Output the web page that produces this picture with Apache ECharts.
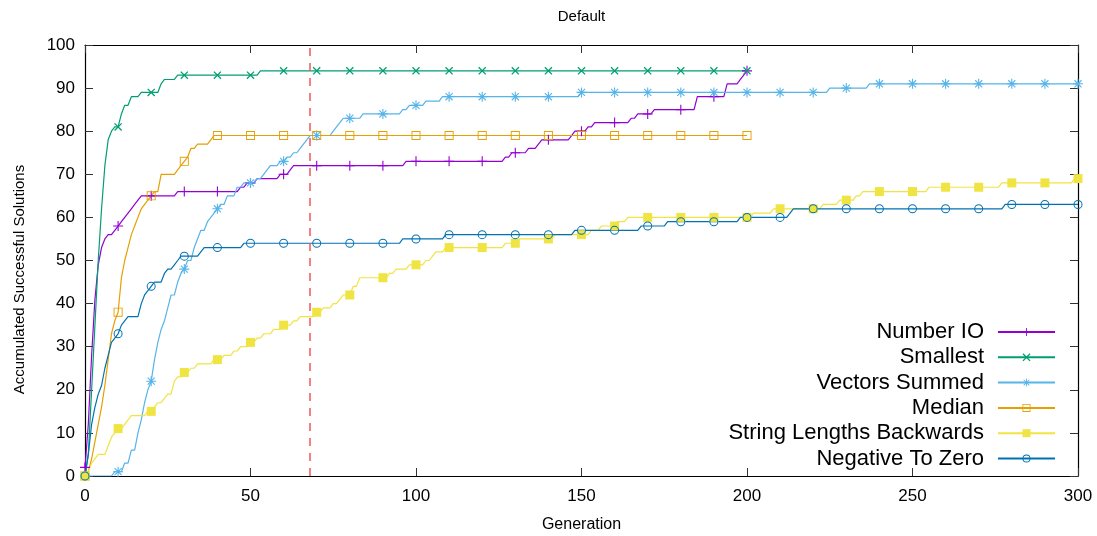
<!DOCTYPE html>
<html>
<head>
<meta charset="utf-8">
<script src="https://cdn.jsdelivr.net/npm/echarts@6/dist/echarts.min.js"></script>
<style>
  html, body { margin: 0; padding: 0; background: #fff; }
  #chart { width: 1097px; height: 536px; }
</style>
</head>
<body>
<div id="chart"></div>
<script>
// Accumulated successful solutions per generation, stored as step changes:
// each pair is [generation, value reached at that generation].
const numberIO = [[0,2],[1,12],[2,28],[3,41],[4,49],[5,53],[6,55],[7,56],[9,57],[10,58],[11,59],[12,60],[13,61],[14,62],[15,63],[16,64],[17,65],[28,66],[47,67],[49,68],[52,69],[59,70],[62,71],[63,72],[97,73],[127,74],[129,75],[134,76],[137,77],[138,78],[147,79],[148,80],[152,81],[154,82],[165,83],[167,84],[172,85],[185,88],[194,91],[198,92],[199,93],[200,94]];
const smallest = [[0,0],[1,5],[2,20],[3,35],[4,50],[5,62],[6,72],[7,78],[8,80],[9,81],[11,84],[12,86],[14,88],[17,89],[23,91],[24,92],[28,93],[53,94]];
const vectorsSummed = [[0,0],[9,1],[12,3],[14,6],[16,10],[17,13],[18,17],[19,20],[20,22],[21,27],[22,31],[23,34],[24,36],[25,39],[26,42],[28,45],[29,47],[30,48],[31,50],[33,53],[34,55],[35,57],[37,59],[38,60],[39,61],[40,62],[41,63],[43,65],[46,67],[48,68],[52,69],[54,70],[55,71],[56,72],[59,73],[61,74],[63,75],[65,76],[66,77],[67,78],[68,79],[75,80],[76,81],[77,82],[78,83],[84,84],[96,85],[98,86],[103,87],[108,88],[150,89],[225,90],[237,91]];
const median = [[0,0],[1,1],[2,4],[3,8],[4,12],[5,16],[6,21],[7,27],[8,33],[9,36],[10,38],[11,46],[12,50],[13,53],[14,56],[15,58],[16,60],[17,62],[18,63],[19,64],[20,65],[21,66],[23,70],[28,71],[29,72],[30,73],[31,74],[32,76],[34,77],[38,78],[39,79]];
const stringLengthsBackwards = [[0,0],[1,1],[2,3],[3,4],[4,5],[7,7],[8,9],[9,10],[10,11],[12,12],[13,13],[14,14],[19,15],[21,16],[22,17],[24,18],[25,19],[27,22],[28,23],[30,24],[32,25],[34,26],[39,27],[42,28],[45,29],[47,30],[50,31],[52,32],[54,33],[57,34],[60,35],[63,36],[65,37],[70,38],[72,39],[75,40],[77,41],[78,42],[81,44],[83,46],[92,47],[94,48],[98,49],[103,50],[105,51],[106,52],[109,53],[127,54],[131,55],[142,56],[153,57],[156,58],[161,59],[164,60],[202,61],[208,62],[223,63],[228,64],[233,65],[235,66],[255,67],[277,68],[299,69]];
const negativeToZero = [[0,0],[1,5],[2,12],[3,16],[4,19],[5,21],[6,25],[7,28],[8,31],[9,32],[10,33],[11,35],[12,36],[13,37],[17,40],[18,42],[19,43],[20,44],[21,45],[24,47],[25,48],[27,49],[28,50],[29,51],[35,52],[36,53],[48,54],[96,55],[109,56],[148,57],[168,58],[176,59],[198,60],[213,61],[214,62],[278,63]];

const seriesNames = ['Number IO', 'Smallest', 'Vectors Summed', 'Median', 'String Lengths Backwards', 'Negative To Zero'];
const seriesSteps = [numberIO, smallest, vectorsSummed, median, stringLengthsBackwards, negativeToZero];
const lastGenerations = [200, 200, 300, 200, 300, 300];
const markerEvery = 10;
const cutoffGeneration = 68;

const xTicks = { min: 0, max: 300, interval: 50 };
const yTicks = { min: 0, max: 100, interval: 10 };

const colors = ['#9400d3', '#009e73', '#56b4e9', '#e69f00', '#f0e442', '#0072b2'];

// Thin crossing bars (plus, cross, asterisk) as a filled path
function barsPath(angles, len, w) {
  let d = '';
  for (const a of angles) {
    const r = a * Math.PI / 180, c = Math.cos(r), s = Math.sin(r);
    const hx = c * len, hy = s * len, px = -s * w / 2, py = c * w / 2;
    const p = [[-hx + px, -hy + py], [hx + px, hy + py], [hx - px, hy - py], [-hx - px, -hy - py]];
    d += 'M' + p.map(q => q[0].toFixed(3) + ',' + q[1].toFixed(3)).join('L') + 'Z';
  }
  return 'path://' + d;
}
const ringSquare = 'path://M-5,-5L5,-5L5,5L-5,5ZM-4,-4L-4,4L4,4L4,-4Z';
const ringCircle = 'path://M0,-5A5,5 0 1,1 0,5A5,5 0 1,1 0,-5ZM0,-3.9A3.9,3.9 0 1,0 0,3.9A3.9,3.9 0 1,0 0,-3.9Z';

const symbols = [
  { symbol: barsPath([0, 90], 5, 1.1), size: 10 },
  { symbol: barsPath([45, 135], 5, 1.3), size: 8 },
  { symbol: barsPath([0, 45, 90, 135], 5, 1.1), size: 10 },
  { symbol: ringSquare, size: 9 },
  { symbol: 'rect', size: 9 },
  { symbol: ringCircle, size: 9 }
];

function valueAt(steps, g) {
  let v = steps[0][1];
  for (const [sg, sv] of steps) { if (sg <= g) v = sv; else break; }
  return v;
}

// Line through the step changes: each change rises over one generation.
function buildData(steps, lastGen) {
  const pts = new Map();
  let prev = null;
  for (const [g, v] of steps) {
    if (prev && g - 1 > prev[0]) pts.set(g - 1, prev[1]);
    pts.set(g, v);
    prev = [g, v];
  }
  if (prev[0] < lastGen) pts.set(lastGen, prev[1]);
  for (let g = 0; g <= lastGen; g += markerEvery) {
    if (!pts.has(g)) pts.set(g, valueAt(steps, g));
  }
  return [...pts.keys()].sort((a, b) => a - b).map(g => {
    const item = { value: [g, pts.get(g)] };
    if (g % markerEvery !== 0) item.symbol = 'none';
    return item;
  });
}

const series = seriesNames.map((name, i) => ({
  name,
  type: 'line',
  xAxisIndex: 0,
  yAxisIndex: 0,
  data: buildData(seriesSteps[i], lastGenerations[i]),
  symbol: symbols[i].symbol,
  symbolSize: symbols[i].size,
  showSymbol: true,
  lineStyle: { color: colors[i], width: 1.2 },
  itemStyle: { color: colors[i] },
  animation: false,
  emphasis: { disabled: true }
}));

series[series.length - 1].markLine = {
  silent: true,
  symbol: 'none',
  label: { show: false },
  lineStyle: { color: '#f0585c', type: [8, 7], width: 1.5 },
  data: [{ xAxis: cutoffGeneration }]
};

const font = '"Liberation Sans", Arial, sans-serif';
const axisCommon = {
  type: 'value',
  axisLine: { show: true, onZero: false, lineStyle: { color: '#000', width: 1.2 } },
  axisTick: { show: true, inside: true, length: 8, lineStyle: { color: '#333' } },
  splitLine: { show: false }
};

const chart = echarts.init(document.getElementById('chart'), null, { renderer: 'canvas' });
chart.setOption({
  animation: false,
  backgroundColor: '#fff',
  grid: { left: 85, right: 19, top: 45, bottom: 60, containLabel: false, outerBoundsMode: 'none' },
  graphic: [{
    type: 'text', x: 581.5, y: 17,
    style: { text: 'Default', align: 'center', verticalAlign: 'middle', font: '15px ' + font, fill: '#000' }
  }],
  xAxis: [
    Object.assign({}, axisCommon, xTicks, {
      position: 'bottom',
      name: 'Generation', nameLocation: 'middle', nameGap: 41,
      nameTextStyle: { fontSize: 16, color: '#000', fontFamily: font },
      axisLabel: { fontSize: 17, color: '#000', margin: 12, fontFamily: font }
    }),
    Object.assign({}, axisCommon, xTicks, { position: 'top', axisLabel: { show: false } })
  ],
  yAxis: [
    Object.assign({}, axisCommon, yTicks, {
      position: 'left',
      name: 'Accumulated Successful Solutions', nameLocation: 'middle', nameGap: 58,
      nameTextStyle: { fontSize: 15, color: '#000', fontFamily: font, padding: [0, 38, 0, 0] },
      axisLabel: { fontSize: 17, color: '#000', margin: 10, fontFamily: font }
    }),
    Object.assign({}, axisCommon, yTicks, { position: 'right', axisLabel: { show: false } })
  ],
  legend: {
    orient: 'vertical',
    right: 36,
    top: 316,
    align: 'right',
    itemWidth: 57,
    itemHeight: 10,
    itemGap: 3.3,
    selectedMode: false,
    textStyle: { fontSize: 22, color: '#000', fontFamily: font, lineHeight: 22, padding: [0, 9, 0, 0] },
    data: seriesNames
  },
  series
});
</script>
</body>
</html>
